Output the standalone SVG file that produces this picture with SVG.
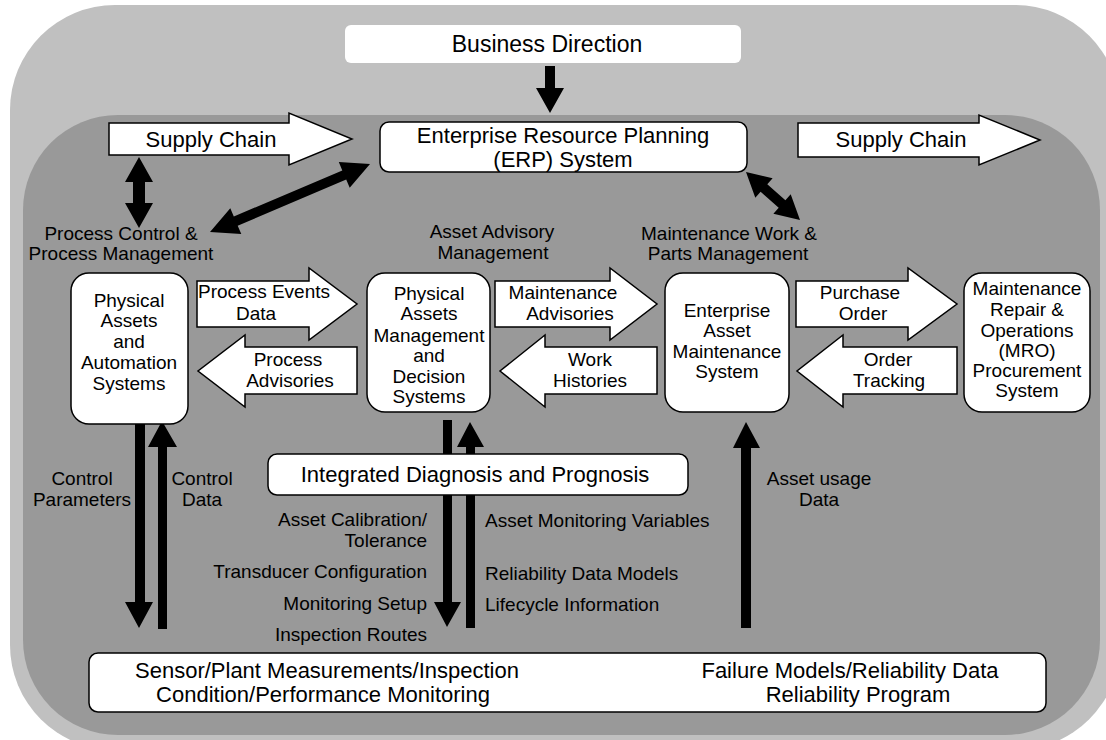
<svg xmlns="http://www.w3.org/2000/svg" width="1106" height="740" viewBox="0 0 1106 740">
<style>
text{font-family:"Liberation Sans",Arial,sans-serif;fill:#000;text-anchor:middle}
.big{font-size:22px}
.sm{font-size:19px}
.r{text-anchor:end}
.l{text-anchor:start}
.box{fill:#fff;stroke:#000;stroke-width:1.5}
.blk{fill:#fff;stroke:#000;stroke-width:1.5;stroke-linejoin:miter}
.solid{fill:#000;stroke:none}
</style>
<rect x="10" y="5" width="1110" height="745" rx="105" fill="#c0c0c0"/>
<rect x="23" y="115" width="1077" height="620" rx="95" fill="#999999"/>

<g id="connectors">
  <polygon class="solid" points="545,66 555,66 555,88 564,88 550,113 536,88 545,88"/>
  <polygon class="blk" points="109,123 289,123 289,113 352,139 289,165 289,155 109,155"/>
  <polygon class="blk" points="798,123 979,123 979,115 1040,140 979,165 979,157 798,157"/>
  <polygon class="solid" points="139,157 153,182 145,182 145,203 153,203 139,228 125,203 133,203 133,182 125,182"/>
  <polygon class="solid" points="210,232 241.3,233.9 237.7,225.7 346.2,179.6 349.7,187.8 370,164 338.8,162.1 342.3,170.4 233.8,216.5 230.3,208.2"/>
  <polygon class="solid" points="746,172 755.3,197.7 760.6,191.7 778.7,207.8 773.4,213.8 800,220 790.7,194.3 785.4,200.3 767.3,184.2 772.6,178.2"/>
  <polygon class="blk" points="197,281 309,281 309,268 357,304 309,340 309,327 197,327"/>
  <polygon class="blk" points="357,347 245,347 245,335 198,371 245,407 245,394 357,394"/>
  <polygon class="blk" points="495,281 610,281 610,268 657,304 610,340 610,327 495,327"/>
  <polygon class="blk" points="657,347 545,347 545,335 500,371 545,407 545,394 657,394"/>
  <polygon class="blk" points="796,281 908,281 908,268 957,304 908,340 908,327 796,327"/>
  <polygon class="blk" points="957,347 843,347 843,335 797,371 843,407 843,394 957,394"/>
  <polygon class="solid" points="135,421 145,421 145,602 153,602 139,628 125,602 135,602"/>
  <polygon class="solid" points="162,421 177,447 167,447 167,629 158,629 158,447 148,447"/>
  <polygon class="solid" points="443,420 452,420 452,602 461,602 447,627 434,602 443,602"/>
  <polygon class="solid" points="470,422 484,447 475,447 475,628 466,628 466,447 457,447"/>
  <polygon class="solid" points="746,422 760,448 751,448 751,628 741,628 741,448 733,448"/>
  <text class="big" x="211" y="147">Supply Chain</text>
  <text class="big" x="901" y="147">Supply Chain</text>
  <text class="sm" x="264" y="298">Process Events</text>
  <text class="sm" x="256" y="320">Data</text>
  <text class="sm" x="288" y="366">Process</text>
  <text class="sm" x="290" y="387">Advisories</text>
  <text class="sm" x="563" y="299">Maintenance</text>
  <text class="sm" x="570" y="320">Advisories</text>
  <text class="sm" x="590" y="366">Work</text>
  <text class="sm" x="590" y="387">Histories</text>
  <text class="sm" x="860" y="299">Purchase</text>
  <text class="sm" x="863" y="320">Order</text>
  <text class="sm" x="888" y="366">Order</text>
  <text class="sm" x="889" y="387">Tracking</text>
  <text class="sm" x="82" y="485">Control</text>
  <text class="sm" x="82" y="506">Parameters</text>
  <text class="sm" x="202" y="485">Control</text>
  <text class="sm" x="202" y="506">Data</text>
  <text class="sm r" x="427" y="526">Asset Calibration/</text>
  <text class="sm r" x="427" y="547">Tolerance</text>
  <text class="sm r" x="427" y="578">Transducer Configuration</text>
  <text class="sm r" x="427" y="610">Monitoring Setup</text>
  <text class="sm r" x="427" y="641">Inspection Routes</text>
  <text class="sm l" x="485" y="527">Asset Monitoring Variables</text>
  <text class="sm l" x="485" y="580">Reliability Data Models</text>
  <text class="sm l" x="485" y="611">Lifecycle Information</text>
  <text class="sm" x="819" y="485">Asset usage</text>
  <text class="sm" x="819" y="506">Data</text>
</g>

<g id="labels">
  <text class="sm" x="121" y="240">Process Control &amp;</text>
  <text class="sm" x="121" y="260">Process Management</text>
  <text class="sm" x="492" y="238">Asset Advisory</text>
  <text class="sm" x="493" y="259">Management</text>
  <text class="sm" x="729" y="240">Maintenance Work &amp;</text>
  <text class="sm" x="728" y="260">Parts Management</text>
</g>

<g id="business-direction">
  <rect x="345" y="25" width="396" height="38" rx="6" fill="#fff"/>
  <text x="547" y="52" style="font-size:23px">Business Direction</text>
</g>
<g id="erp">
  <rect class="box" x="380" y="122" width="367" height="50" rx="9"/>
  <text class="big" x="563" y="143">Enterprise Resource Planning</text>
  <text class="big" x="563" y="167">(ERP) System</text>
</g>
<g id="physical-assets">
  <rect class="box" x="71" y="273" width="117" height="151" rx="18"/>
  <text class="sm" x="129" y="307">Physical</text>
  <text class="sm" x="129" y="327">Assets</text>
  <text class="sm" x="129" y="348">and</text>
  <text class="sm" x="129" y="369">Automation</text>
  <text class="sm" x="129" y="390">Systems</text>
</g>
<g id="pam">
  <rect class="box" x="367" y="273" width="123" height="139" rx="18"/>
  <text class="sm" x="429" y="300">Physical</text>
  <text class="sm" x="429" y="320">Assets</text>
  <text class="sm" x="429" y="342">Management</text>
  <text class="sm" x="429" y="362">and</text>
  <text class="sm" x="429" y="383">Decision</text>
  <text class="sm" x="429" y="403">Systems</text>
</g>
<g id="eam">
  <rect class="box" x="665" y="273" width="124" height="139" rx="18"/>
  <text class="sm" x="727" y="317">Enterprise</text>
  <text class="sm" x="727" y="337">Asset</text>
  <text class="sm" x="727" y="358">Maintenance</text>
  <text class="sm" x="727" y="378">System</text>
</g>
<g id="mro">
  <rect class="box" x="964" y="273" width="126" height="139" rx="18"/>
  <text class="sm" x="1027" y="295">Maintenance</text>
  <text class="sm" x="1027" y="316">Repair &amp;</text>
  <text class="sm" x="1027" y="337">Operations</text>
  <text class="sm" x="1027" y="357">(MRO)</text>
  <text class="sm" x="1027" y="377">Procurement</text>
  <text class="sm" x="1027" y="397">System</text>
</g>
<g id="integrated">
  <rect class="box" x="268" y="454" width="420" height="41" rx="9"/>
  <text class="big" x="475" y="482">Integrated Diagnosis and Prognosis</text>
</g>
<g id="sensor">
  <rect class="box" x="89" y="653" width="957" height="59" rx="9"/>
  <text class="big" x="327" y="678">Sensor/Plant Measurements/Inspection</text>
  <text class="big" x="323" y="702">Condition/Performance Monitoring</text>
  <text class="big" x="850" y="678">Failure Models/Reliability Data</text>
  <text class="big" x="858" y="702">Reliability Program</text>
</g>
</svg>
